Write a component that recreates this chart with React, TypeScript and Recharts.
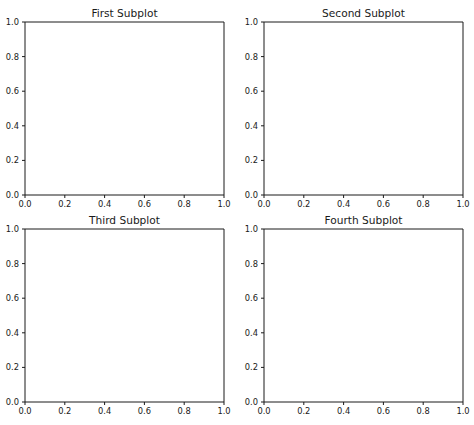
import { ScatterChart, Scatter, XAxis, YAxis, ReferenceLine } from 'recharts';

const titles = ['First Subplot', 'Second Subplot', 'Third Subplot', 'Fourth Subplot'];
const tickValues = [0, 0.2, 0.4, 0.6, 0.8, 1.0];
const emptySeries: { x: number; y: number }[] = [];

const FONT = '"DejaVu Sans", sans-serif';
const INK = '#1a1a1a';

const PANEL_W = 237;
const PANEL_H = 212;

const tickStyle = { fontSize: 8.3, fill: INK, fontFamily: FONT };

function Subplot({ title, left, top }: { title: string; left: number; top: number }) {
  return (
    <div style={{ position: 'absolute', left, top, width: PANEL_W, height: PANEL_H }}>
      <div
        style={{
          position: 'absolute',
          left: 25,
          width: 199,
          top: 7,
          textAlign: 'center',
          fontFamily: FONT,
          fontSize: 10.6,
          lineHeight: '12px',
          color: INK,
        }}
      >
        {title}
      </div>
      <ScatterChart
        width={PANEL_W}
        height={PANEL_H}
        margin={{ top: 22, right: 13, bottom: 0, left: 0 }}
      >
        <XAxis
          dataKey="x"
          type="number"
          domain={[0, 1]}
          ticks={tickValues}
          interval={0}
          height={17}
          tickSize={3}
          tickMargin={3}
          tick={tickStyle}
          tickFormatter={(v: number) => v.toFixed(1)}
          stroke={INK}
          allowDataOverflow
        />
        <YAxis
          dataKey="y"
          type="number"
          domain={[0, 1]}
          ticks={tickValues}
          interval={0}
          width={25}
          tickSize={3}
          tickMargin={3}
          tick={tickStyle}
          tickFormatter={(v: number) => v.toFixed(1)}
          stroke={INK}
          allowDataOverflow
        />
        {/* top and right spines */}
        <ReferenceLine y={1} stroke={INK} ifOverflow="visible" />
        <ReferenceLine x={1} stroke={INK} ifOverflow="visible" />
        <Scatter data={emptySeries} fill="#1f77b4" isAnimationActive={false} />
      </ScatterChart>
    </div>
  );
}

export default function App() {
  return (
    <div
      style={{
        position: 'absolute',
        left: 0,
        top: 0,
        width: 474,
        height: 425,
        background: '#fff',
        overflow: 'hidden',
      }}
    >
      <Subplot title={titles[0]} left={0} top={0} />
      <Subplot title={titles[1]} left={239} top={0} />
      <Subplot title={titles[2]} left={0} top={207} />
      <Subplot title={titles[3]} left={239} top={207} />
    </div>
  );
}
